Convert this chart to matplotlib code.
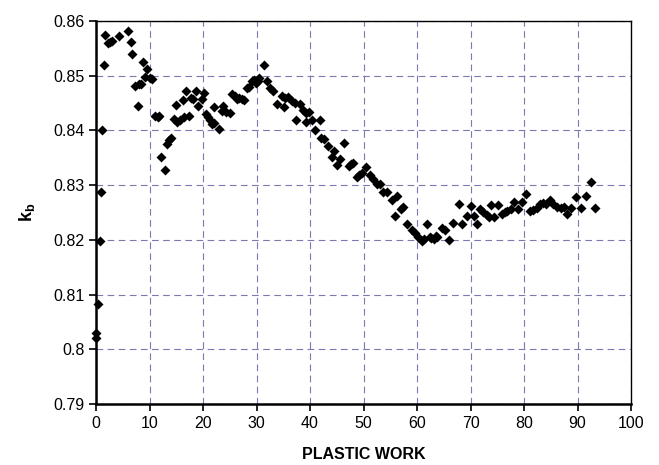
import matplotlib
matplotlib.use("Agg")
import matplotlib.pyplot as plt
from matplotlib.ticker import FuncFormatter

plt.rcParams["font.family"] = ["Liberation Sans", "DejaVu Sans"]
plt.rcParams["mathtext.fontset"] = "custom"
plt.rcParams["mathtext.rm"] = "Liberation Sans"
plt.rcParams["mathtext.bf"] = "Liberation Sans:bold"

# ── avleste punkter (plastisk arbeid, k_b) ─────────────────────────────────
plastic_work = [
    0.0, 0.0, 0.4, 0.7, 1.0, 1.06, 1.5, 1.7, 2.2, 2.6, 2.9, 4.3, 5.9, 6.5, 6.8,
    7.3, 7.9, 8.0, 8.4, 8.7, 9.2, 9.6, 10.1, 10.5, 11.0, 11.5, 11.8, 12.2, 12.9,
    13.2, 13.6, 14.0,
    14.5, 15.0, 15.2, 15.7, 16.2, 16.4, 16.8, 17.3, 17.7, 18.2, 18.6, 19.1, 19.8,
    20.2, 20.6, 21.0, 21.3, 21.6, 22.1, 22.1, 23.0, 23.5, 23.8, 24.3, 25.0, 25.5,
    26.0, 26.3, 26.8, 27.2, 27.7, 28.2, 28.6, 29.1, 29.5, 29.9, 30.2, 30.5, 31.4,
    31.9, 32.5, 33.1, 33.8,
    34.7, 35.1, 35.3, 35.9, 36.6, 37.2, 37.4, 38.1, 38.7, 39.3, 39.3, 39.9, 40.3,
    40.9, 41.9, 42.0, 42.6, 43.4, 44.1, 44.4, 45.1, 45.6, 46.4, 47.2, 47.6, 48.1,
    48.7, 49.2, 49.7, 50.5, 51.2, 51.8, 52.6, 53.1,
    53.7, 54.3, 55.3, 55.9, 56.2, 57.0, 57.4, 58.2, 59.0, 59.6, 60.1, 60.9, 61.3,
    61.9, 62.4, 62.7, 63.1, 63.6, 63.8, 64.6, 65.2, 66.0,
    66.8, 67.9, 68.5, 69.3, 70.0, 70.7, 71.2, 71.8, 72.4, 73.1,
    73.5, 73.9, 74.4, 75.2, 75.8, 76.4, 76.9, 77.5, 78.1, 78.9, 79.6, 80.4, 81.1,
    81.7, 82.4, 83.0, 83.6, 84.2, 84.9, 85.5, 86.2, 87.0, 87.5, 88.1, 88.7, 89.7,
    90.6, 91.6, 92.5, 93.3,
]
k_b = [
    0.8021, 0.8030, 0.8083, 0.8197, 0.8288, 0.8400, 0.8520, 0.8575, 0.8560,
    0.8562, 0.8564, 0.8573, 0.8581, 0.8561, 0.8539, 0.8482, 0.8444, 0.8485,
    0.8485, 0.8525, 0.8497, 0.8513, 0.8495, 0.8494, 0.8426, 0.8424, 0.8426,
    0.8351, 0.8327, 0.8375, 0.8382, 0.8387,
    0.8420, 0.8447, 0.8416, 0.8419, 0.8455, 0.8424, 0.8472, 0.8426, 0.8460,
    0.8457, 0.8472, 0.8444, 0.8457, 0.8469, 0.8430, 0.8424, 0.8419, 0.8411,
    0.8414, 0.8443, 0.8402, 0.8436, 0.8444, 0.8434, 0.8432, 0.8466, 0.8463,
    0.8457, 0.8460, 0.8457, 0.8455, 0.8477, 0.8480, 0.8491, 0.8493, 0.8487,
    0.8491, 0.8495, 0.8519, 0.8491, 0.8478, 0.8472, 0.8449,
    0.8463, 0.8442, 0.8460, 0.8461, 0.8454, 0.8451, 0.8419, 0.8448, 0.8438,
    0.8432, 0.8416, 0.8434, 0.8419, 0.8400, 0.8419, 0.8387, 0.8384, 0.8371,
    0.8351, 0.8363, 0.8337, 0.8347, 0.8377, 0.8335, 0.8339, 0.8341, 0.8314,
    0.8318, 0.8323, 0.8334, 0.8318, 0.8312, 0.8302, 0.8303,
    0.8288, 0.8287, 0.8273, 0.8244, 0.8280, 0.8256, 0.8260, 0.8229, 0.8218,
    0.8213, 0.8205, 0.8197, 0.8201, 0.8229, 0.8205, 0.8203, 0.8201, 0.8207,
    0.8206, 0.8221, 0.8218, 0.8200,
    0.8231, 0.8266, 0.8229, 0.8244, 0.8261, 0.8244, 0.8229, 0.8256, 0.8251,
    0.8246,
    0.8242, 0.8264, 0.8242, 0.8264, 0.8248, 0.8251, 0.8253, 0.8256, 0.8270,
    0.8256, 0.8270, 0.8284, 0.8252, 0.8255, 0.8259, 0.8265, 0.8268, 0.8265,
    0.8272, 0.8265, 0.8260, 0.8259, 0.8260, 0.8248, 0.8259, 0.8279, 0.8259,
    0.8281, 0.8306, 0.8259,
]

x_ticks = list(range(0, 101, 10))
y_ticks = [0.79, 0.80, 0.81, 0.82, 0.83, 0.84, 0.85, 0.86]

fig = plt.figure(figsize=(6.59, 4.65), dpi=100)
ax = fig.add_axes([96 / 659, 1 - 404 / 465, 535 / 659, 383 / 465])

ax.scatter(plastic_work, k_b, marker="D", s=26, color="black",
           linewidths=0, zorder=3, clip_on=False)

ax.set_xlim(0, 100)
ax.set_ylim(0.79, 0.86)
ax.set_xticks(x_ticks)
ax.set_yticks(y_ticks)
ax.yaxis.set_major_formatter(FuncFormatter(lambda v, _: f"{v:g}"))
ax.tick_params(axis="both", direction="out", length=5, width=1.2,
               labelsize=11.5, colors="black")
ax.tick_params(axis="x", pad=4)
ax.tick_params(axis="y", pad=3)

ax.grid(True, color="#7a7ab0", linestyle=(0, (6, 4)), linewidth=0.8)
ax.set_axisbelow(True)

for side in ("left", "bottom"):
    ax.spines[side].set_linewidth(1.8)
for side in ("top", "right"):
    ax.spines[side].set_linewidth(1.0)

ax.set_xlabel("PLASTIC WORK", fontsize=11.5, fontweight="bold", labelpad=11)
ax.set_ylabel(r"$\mathbf{k_b}$", fontsize=13, labelpad=12)

fig.savefig("out.png", dpi=100)
